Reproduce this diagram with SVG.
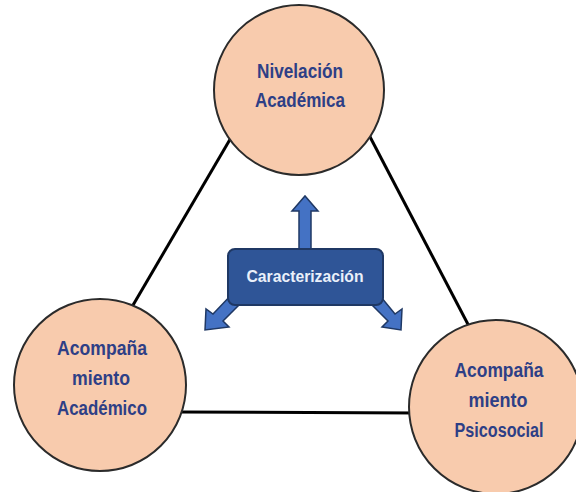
<svg xmlns="http://www.w3.org/2000/svg" width="576" height="492" viewBox="0 0 576 492">
<style>
.node{fill:#F8CBAD;stroke:#2b2b2b;stroke-width:2}
.lbl{font-family:"Liberation Sans",Arial,sans-serif;font-weight:bold;font-size:19.5px;fill:#2E3F86;text-anchor:middle}
.conn{stroke:#000;stroke-width:3;fill:none}
.arr{fill:#4472C4;stroke:#1F3864;stroke-width:1.5;stroke-linejoin:miter}
</style>
<rect width="576" height="492" fill="#fff"/>
<g id="connectors">
<line class="conn" x1="232" y1="136" x2="129" y2="312"/>
<line class="conn" x1="368" y1="133" x2="472" y2="332"/>
<line class="conn" x1="180" y1="412" x2="418" y2="413"/>
</g>
<g id="nivelacion">
<circle class="node" cx="299" cy="90" r="85"/>
<text class="lbl" x="300" y="78" textLength="86" lengthAdjust="spacingAndGlyphs">Nivelación</text>
<text class="lbl" x="300" y="107" textLength="90" lengthAdjust="spacingAndGlyphs">Académica</text>
</g>
<g id="acomp-academico">
<circle class="node" cx="100" cy="385" r="86"/>
<text class="lbl" x="102" y="355" textLength="90" lengthAdjust="spacingAndGlyphs">Acompaña</text>
<text class="lbl" x="101" y="385" textLength="58" lengthAdjust="spacingAndGlyphs">miento</text>
<text class="lbl" x="102" y="415" textLength="90" lengthAdjust="spacingAndGlyphs">Académico</text>
</g>
<g id="acomp-psicosocial">
<circle class="node" cx="496" cy="407" r="87"/>
<text class="lbl" x="499" y="377" textLength="89" lengthAdjust="spacingAndGlyphs">Acompaña</text>
<text class="lbl" x="498" y="407" textLength="59" lengthAdjust="spacingAndGlyphs">miento</text>
<text class="lbl" x="499" y="437" textLength="89" lengthAdjust="spacingAndGlyphs">Psicosocial</text>
</g>
<g id="caracterizacion">
<polygon class="arr" points="299,252 299,211 292,211 305,196 318,211 311,211 311,252"/>
<polygon class="arr" points="234,292 243,301 223,321 229,327 205,330 206,309 213,314"/>
<polygon class="arr" points="377,292 368,301 388,321 382,327 401,330 402,309 395,314"/>
<rect x="228" y="249" width="155" height="56" rx="7" ry="7" fill="#2F5597" stroke="#1F3864" stroke-width="2"/>
<text x="305" y="282" font-family="'Liberation Sans',Arial,sans-serif" font-weight="bold" font-size="17" fill="#EAF0FA" text-anchor="middle" textLength="117" lengthAdjust="spacingAndGlyphs">Caracterización</text>
</g>
</svg>
